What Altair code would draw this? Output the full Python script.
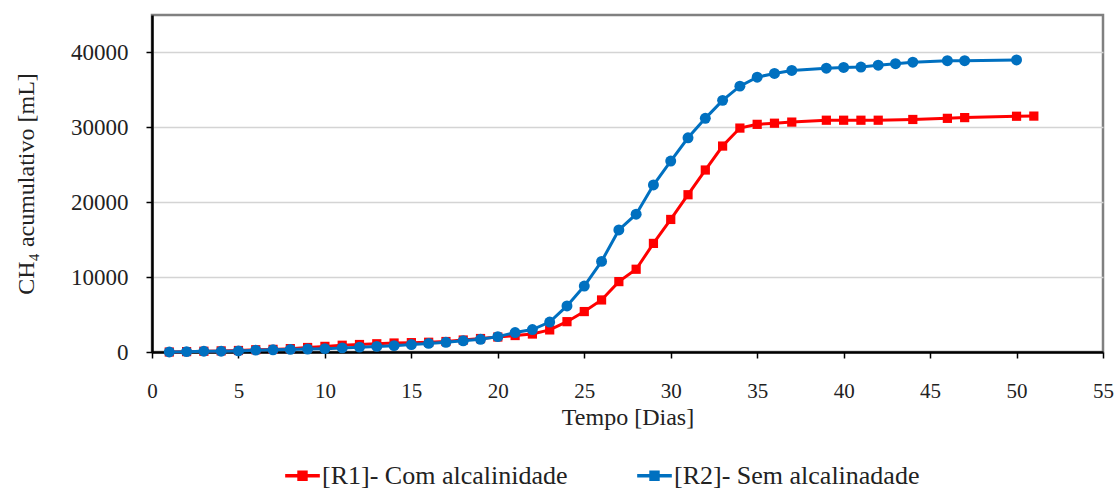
import altair as alt
import pandas as pd

# Day numbers and cumulative CH4 (mL)
r1_days = [1, 2, 3, 4, 5, 6, 7, 8, 9, 10, 11, 12, 13, 14, 15, 16, 17, 18, 19, 20,
           21, 22, 23, 24, 25, 26, 27, 28, 29, 30, 31, 32, 33, 34, 35, 36, 37,
           39, 40, 41, 42, 44, 46, 47, 50, 51]
r1_vals = [0, 50, 100, 150, 200, 300, 350, 450, 600, 750, 900, 1000, 1100, 1200, 1250, 1300,
           1400, 1600, 1800, 2000, 2200, 2400, 2950, 4050, 5400, 6950, 9400, 11050, 14500,
           17700, 21000, 24300, 27500, 29900, 30400, 30550, 30700, 30950, 30950, 30950,
           30950, 31050, 31200, 31300, 31480, 31500]

r2_days = [1, 2, 3, 4, 5, 6, 7, 8, 9, 10, 11, 12, 13, 14, 15, 16, 17, 18, 19, 20,
           21, 22, 23, 24, 25, 26, 27, 28, 29, 30, 31, 32, 33, 34, 35, 36, 37,
           39, 40, 41, 42, 43, 44, 46, 47, 50]
r2_vals = [0, 50, 100, 100, 150, 250, 300, 350, 400, 450, 550, 650, 750, 850, 1000, 1150,
           1300, 1500, 1700, 2050, 2600, 3000, 4000, 6150, 8800, 12100, 16300, 18400, 22300,
           25500, 28600, 31200, 33600, 35500, 36700, 37200, 37600, 37900, 38000, 38050,
           38300, 38500, 38700, 38900, 38900, 39000]

series_names = ["[R1]- Com alcalinidade", "[R2]- Sem alcalinadade"]
series_colors = ["#ff0000", "#0070c0"]
series_shapes = ["square", "circle"]

x_ticks = list(range(0, 56, 5))
y_ticks = [0, 10000, 20000, 30000, 40000]

df = pd.concat([
    pd.DataFrame({"dia": r1_days, "ch4": r1_vals, "serie": series_names[0]}),
    pd.DataFrame({"dia": r2_days, "ch4": r2_vals, "serie": series_names[1]}),
])

FONT = "Liberation Serif"

x = alt.X("dia:Q", scale=alt.Scale(domain=[0, 55], nice=False, zero=False),
          axis=alt.Axis(values=x_ticks, title="Tempo [Dias]", grid=False,
                        domainColor="#000000", domainWidth=2.5, tickColor="#000000",
                        tickSize=6, tickWidth=1.5, labelPadding=22, titlePadding=4,
                        labelFont=FONT, labelFontSize=21, labelColor="#222222",
                        titleFont=FONT, titleFontSize=24, titleFontWeight="normal",
                        titleColor="#222222", labelFlush=False))
y = alt.Y("ch4:Q", scale=alt.Scale(domain=[0, 45000], nice=False),
          axis=alt.Axis(values=y_ticks, title="CH₄ acumulativo [mL]", format="d",
                        gridColor="#d4d4d4", gridWidth=1.5,
                        domainColor="#000000", domainWidth=2.5, tickColor="#000000",
                        tickSize=6, tickWidth=1.5, labelPadding=18,
                        labelFont=FONT, labelFontSize=23, labelColor="#222222",
                        titleFont=FONT, titleFontSize=24, titleFontWeight="normal",
                        titleColor="#222222", titlePadding=32))

color_scale = alt.Scale(domain=series_names, range=series_colors)

lines = alt.Chart(df).mark_line(strokeWidth=3).encode(
    x=x, y=y,
    color=alt.Color("serie:N", scale=color_scale,
                    legend=alt.Legend(title=None, orient="none", direction="horizontal",
                                      legendX=131, legendY=441,
                                      symbolType="M-1,0H1 M-0.2,-0.2H0.2V0.2H-0.2Z",
                                      symbolSize=1200, symbolStrokeWidth=3.5, symbolOpacity=1,
                                      labelFont=FONT, labelFontSize=26, labelColor="#222222",
                                      labelOffset=0, columnPadding=62, labelLimit=400)),
)

points = alt.Chart(df).mark_point(filled=True, opacity=1).encode(
    x=x, y=y,
    color=alt.Color("serie:N", scale=color_scale, legend=None),
    shape=alt.Shape("serie:N", scale=alt.Scale(domain=series_names, range=series_shapes), legend=None),
    size=alt.condition("datum.serie == '" + series_names[0] + "'", alt.value(85), alt.value(120)),
)

chart = alt.layer(lines, points).resolve_legend(color="independent").properties(
    width=951, height=337,
    padding={"left": 152, "top": 15, "right": 16, "bottom": 138},
    autosize=alt.AutoSizeParams(type="none"),
    background="#ffffff",
).configure(font=FONT).configure_view(stroke="#808080", strokeWidth=2.5).configure_legend(
    labelFont=FONT
)

chart.save("out.html", embed_options={"renderer": "svg", "actions": False})
